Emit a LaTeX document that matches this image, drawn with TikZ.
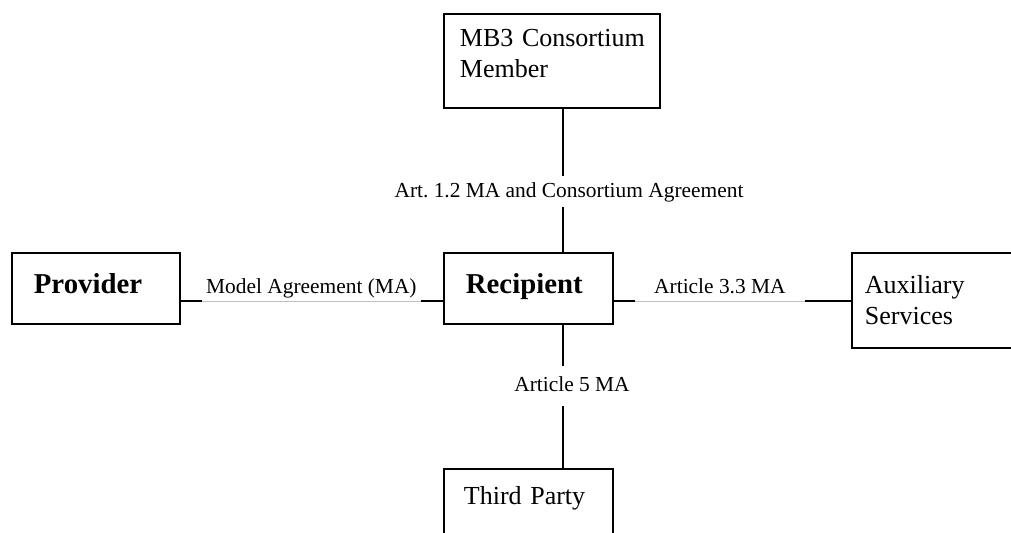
\documentclass[tikz,border=0pt]{standalone}
\usepackage{fontspec}
\setmainfont{Liberation Serif}
\frenchspacing

\begin{document}
\begin{tikzpicture}
[x=0.5pt,y=-0.5pt,
 party/.style={draw,line width=0.9pt,anchor=north west,align=left,inner ysep=0pt,
   font=\fontsize{13}{15.5}\selectfont},
 bigparty/.style={party,font=\fontsize{14.4}{17}\selectfont\bfseries},
 lbl/.style={inner sep=0pt,font=\fontsize{10.7}{12}\selectfont},
 link/.style={line width=0.75pt},
 rule/.style={line width=0.3pt,black!25}]
\useasboundingbox (0,0) rectangle (1011,533);
\clip (0,0) rectangle (1011,533);
% the parties
\node[bigparty,inner xsep=11pt,text width=62pt,text height=20.25pt,text depth=15.25pt] (prov) at (11,252) {Provider};
\node[bigparty,inner xsep=11pt,text width=62.5pt,text height=20.25pt,text depth=15.25pt] (rec) at (443,252) {Recipient};
\node[party,inner xsep=8pt,text width=92pt,text height=16.5pt,text depth=30.5pt] (mb3) at (443,13) {\mbox{MB3 Consortium}\\Member};
\node[party,inner xsep=6.5pt,text width=87pt,text height=20.5pt,text depth=27pt] (aux) at (851,252) {Auxiliary\\Services};
\node[party,inner xsep=10pt,text width=64.5pt,text height=18pt,text depth=30pt] (third) at (443,468) {Third Party};
% the agreements
\node[lbl,minimum width=109pt,text depth=3.5pt,anchor=south west] (lmod) at (202,301) {Model Agreement (MA)};
\node[lbl,minimum width=84.5pt,text depth=3.5pt,anchor=south west] (lart33) at (635,301) {Article 3.3 MA};
\node[lbl,text height=7pt,text depth=1pt,inner ysep=3.5pt,anchor=north] (lart12) at (569,176) {Art. 1.2 MA and Consortium Agreement};
\node[lbl,text height=7pt,text depth=1pt,inner ysep=5.75pt,anchor=north] (lart5) at (572,366) {Article 5 MA};
\coordinate (hl) at (0,301);
\coordinate (vl) at (563,0);
\draw[link] (prov.east |- hl) -- (lmod.south west);
\draw[rule] (lmod.south west) -- (lmod.south east);
\draw[link] (lmod.south east) -- (rec.west |- hl);
\draw[link] (rec.east |- hl) -- (lart33.south west);
\draw[rule] (lart33.south west) -- (lart33.south east);
\draw[link] (lart33.south east) -- (aux.west |- hl);
\draw[link] (mb3.south -| vl) -- (lart12.north -| vl);
\draw[link] (lart12.south -| vl) -- (rec.north -| vl);
\draw[link] (rec.south -| vl) -- (lart5.north -| vl);
\draw[link] (lart5.south -| vl) -- (third.north -| vl);
\end{tikzpicture}
\end{document}
